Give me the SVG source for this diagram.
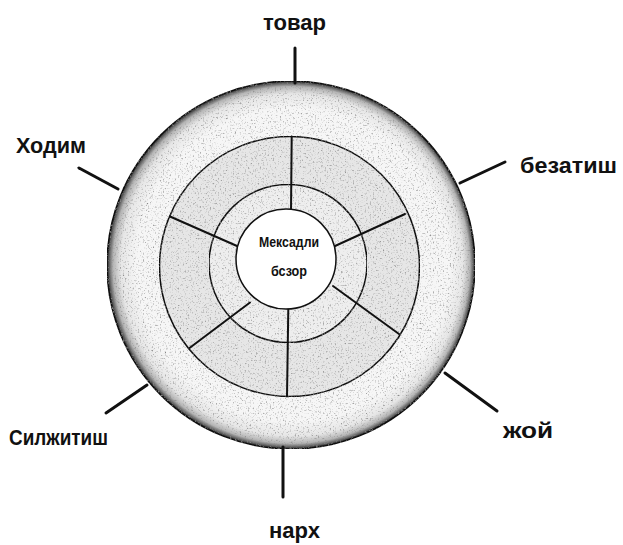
<svg xmlns="http://www.w3.org/2000/svg" width="623" height="545" viewBox="0 0 623 545">
<style>
  .lbl { font-family: "Liberation Sans", Arial, sans-serif; font-size: 22px; font-weight: bold; fill: #111; }
  .ctr { font-family: "Liberation Sans", Arial, sans-serif; font-size: 14px; font-weight: bold; fill: #111; }
  .ring { stroke: #111; stroke-width: 1.5; }
  .spoke { stroke: #111; stroke-width: 2; stroke-linecap: round; }
  .conn { stroke: #111; stroke-width: 3; stroke-linecap: round; fill: none; }
</style>
<defs>
  <radialGradient id="rim" cx="0.5" cy="0.5" r="0.5" fx="0.54" fy="0.5">
    <stop offset="0" stop-color="#f6f6f6"/>
    <stop offset="0.85" stop-color="#f6f6f6"/>
    <stop offset="0.93" stop-color="#e6e6e6"/>
    <stop offset="0.97" stop-color="#b4b4b4"/>
    <stop offset="0.99" stop-color="#5a5a5a"/>
    <stop offset="1" stop-color="#222222"/>
  </radialGradient>
  <filter id="spk" x="0" y="0" width="100%" height="100%">
    <feTurbulence type="fractalNoise" baseFrequency="0.6" numOctaves="2" seed="4" result="n"/>
    <feColorMatrix in="n" type="matrix" values="0 0 0 0 0.25  0 0 0 0 0.25  0 0 0 0 0.25  3 0 0 0 -1.65" result="d"/>
    <feComposite in="d" in2="SourceAlpha" operator="in" result="dots"/>
    <feMerge><feMergeNode in="SourceGraphic"/><feMergeNode in="dots"/></feMerge>
  </filter>
</defs>
<rect width="623" height="545" fill="#ffffff"/>

<g id="wheel">
  <circle id="ring-outer" class="ring" cx="291" cy="265" r="184" fill="url(#rim)" filter="url(#spk)"/>
  <circle id="ring-middle" class="ring" cx="289.5" cy="266.5" r="130" fill="#e6e6e6" filter="url(#spk)"/>
  <circle id="ring-inner" class="ring" cx="288" cy="263.5" r="79" fill="#eeeeee" filter="url(#spk)"/>
  <g id="spokes">
    <line class="spoke" x1="291.7" y1="136.5" x2="291" y2="211"/>
    <line class="spoke" x1="405" y1="214" x2="335" y2="246"/>
    <line class="spoke" x1="399" y1="334" x2="333" y2="286"/>
    <line class="spoke" x1="287" y1="396.5" x2="288.3" y2="309"/>
    <line class="spoke" x1="189.5" y1="348" x2="250" y2="302.5"/>
    <line class="spoke" x1="170" y1="216.5" x2="237" y2="246"/>
  </g>
</g>

<g id="center">
  <circle class="ring" cx="286" cy="259" r="50" fill="#ffffff" stroke-width="2"/>
  <text class="ctr" x="259" y="247" textLength="60" lengthAdjust="spacingAndGlyphs">Мексадли</text>
  <text class="ctr" x="271" y="276" textLength="36" lengthAdjust="spacingAndGlyphs">бсзор</text>
</g>

<g id="connectors">
  <line class="conn" x1="295" y1="48" x2="295" y2="83"/>
  <line class="conn" x1="460" y1="183" x2="505" y2="162"/>
  <line class="conn" x1="445" y1="373" x2="497" y2="411"/>
  <line class="conn" x1="283" y1="447" x2="283" y2="497"/>
  <line class="conn" x1="147" y1="385" x2="106" y2="413"/>
  <line class="conn" x1="79" y1="168" x2="118" y2="189"/>
</g>

<g id="node-tovar"><text class="lbl" x="263" y="30" textLength="63" lengthAdjust="spacingAndGlyphs">товар</text></g>
<g id="node-bezatish"><text class="lbl" x="520" y="173" textLength="97" lengthAdjust="spacingAndGlyphs">безатиш</text></g>
<g id="node-zhoy"><text class="lbl" x="503" y="438" textLength="50" lengthAdjust="spacingAndGlyphs">жой</text></g>
<g id="node-narkh"><text class="lbl" x="269" y="538" textLength="51" lengthAdjust="spacingAndGlyphs">нарх</text></g>
<g id="node-silzhitish"><text class="lbl" x="9" y="445" textLength="99" lengthAdjust="spacingAndGlyphs">Силжитиш</text></g>
<g id="node-khodim"><text class="lbl" x="16" y="153" textLength="70" lengthAdjust="spacingAndGlyphs">Ходим</text></g>
</svg>
